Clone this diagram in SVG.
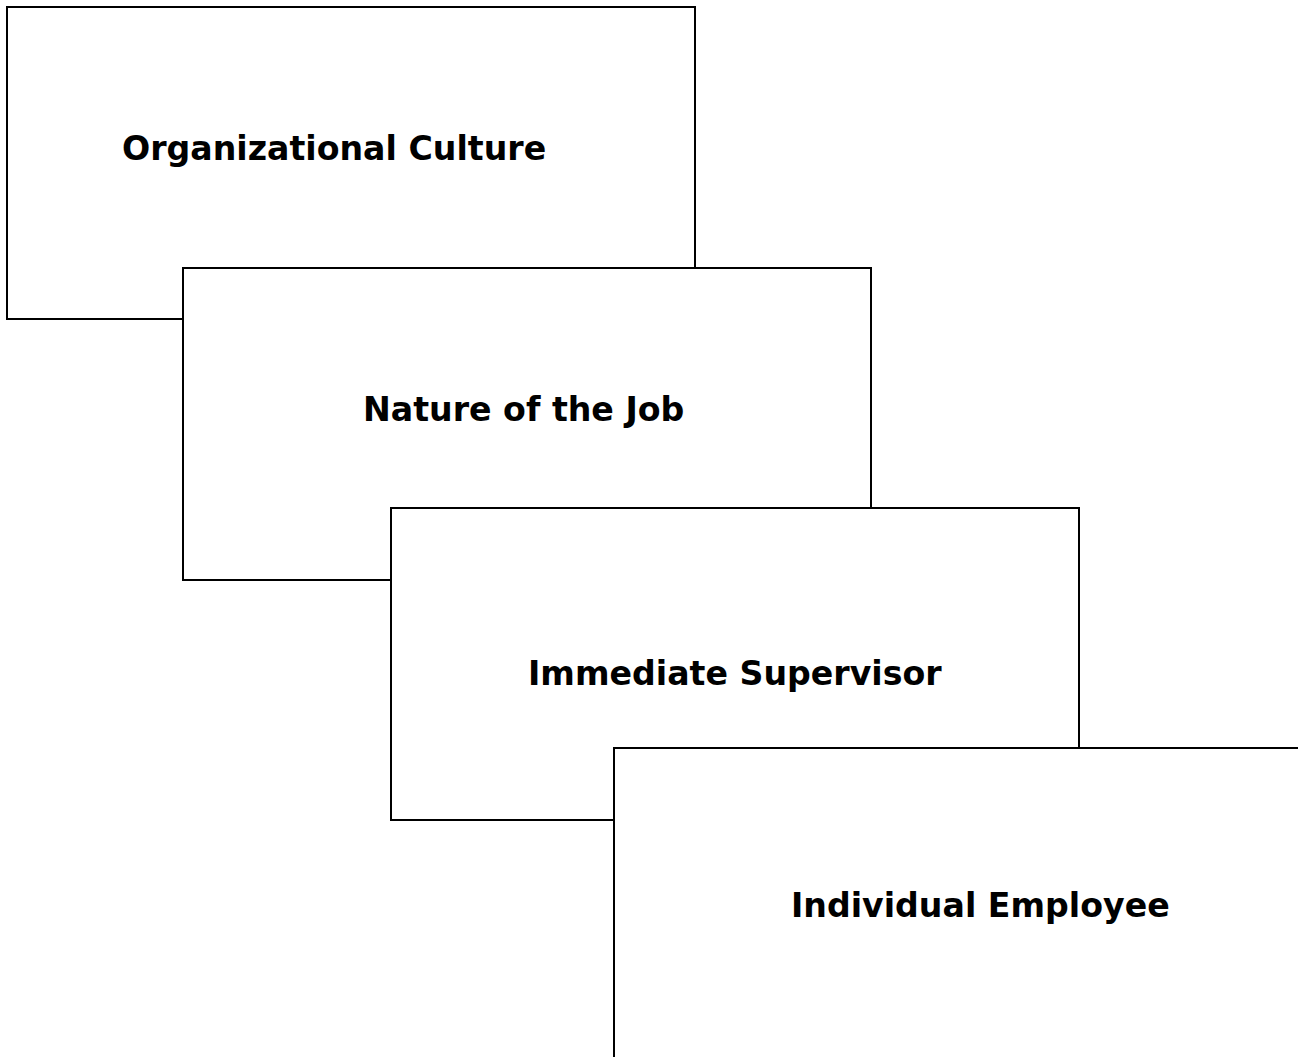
<svg xmlns="http://www.w3.org/2000/svg" width="1298" height="1057" viewBox="0 0 1298 1057">
  <style>
    .card { fill: #ffffff; stroke: #000000; stroke-width: 2; }
    .label { font-family: "DejaVu Sans", Verdana, sans-serif; font-weight: bold; font-size: 33.2px; fill: #000000; }
  </style>
  <rect width="1298" height="1057" fill="#ffffff"/>
  <g id="node-organizational-culture">
    <rect class="card" x="7" y="7" width="688" height="312"/>
    <text class="label" x="122" y="160">Organizational Culture</text>
  </g>
  <g id="node-nature-of-the-job">
    <rect class="card" x="183" y="268" width="688" height="312"/>
    <text class="label" x="363" y="421">Nature of the Job</text>
  </g>
  <g id="node-immediate-supervisor">
    <rect class="card" x="391" y="508" width="688" height="312"/>
    <text class="label" x="528" y="685">Immediate Supervisor</text>
  </g>
  <g id="node-individual-employee">
    <rect class="card" x="614" y="748" width="720" height="340"/>
    <text class="label" x="791" y="917">Individual Employee</text>
  </g>
  <g id="connectors"/>
</svg>
